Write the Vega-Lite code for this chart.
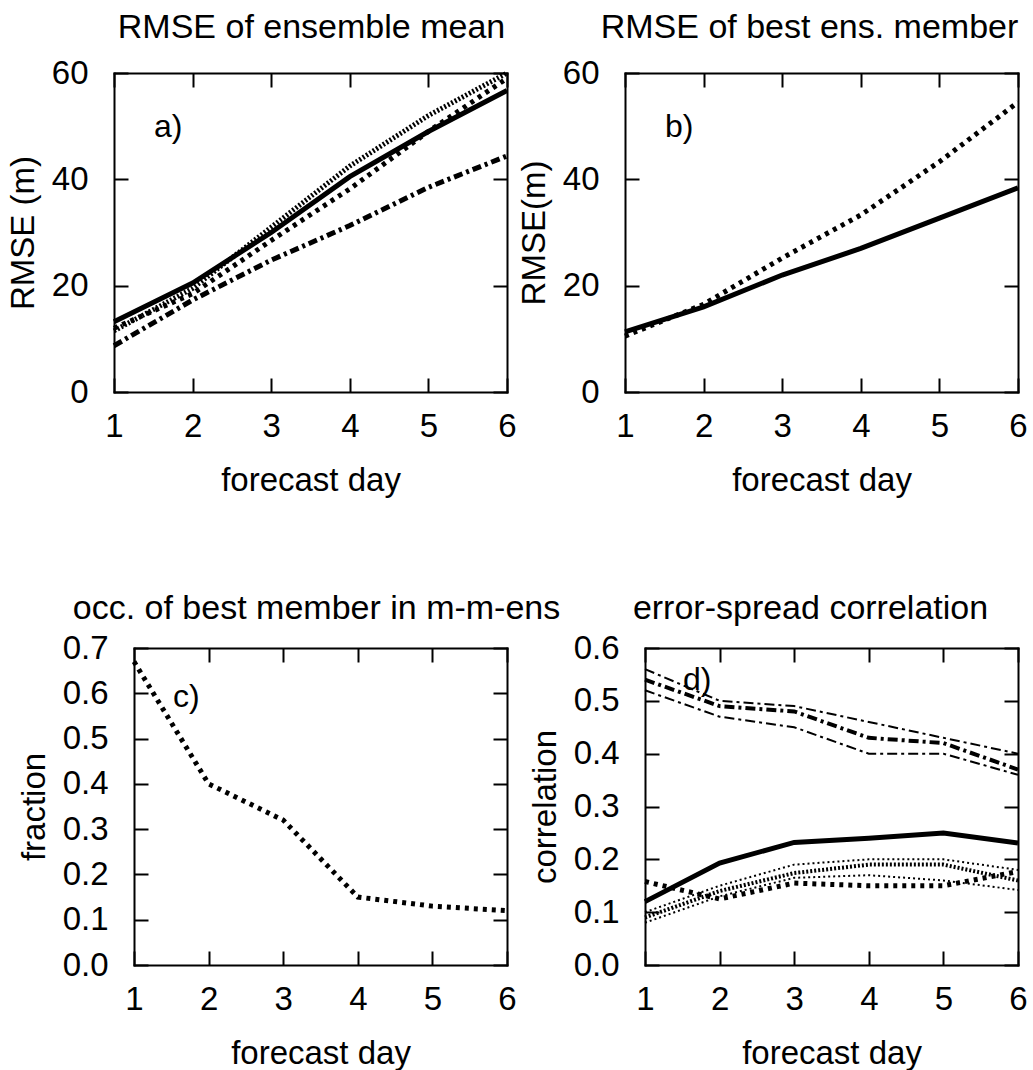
{
  "$schema": "https://vega.github.io/schema/vega-lite/v6.json",
  "autosize": {"type": "pad"},
  "padding": {"left": 7, "top": 11, "right": 0, "bottom": 0},
  "background": "white",
  "config": {
    "font": "Liberation Sans",
    "view": {"stroke": null},
    "axis": {
      "domainColor": "black", "domainWidth": 2, "domainCap": "square",
      "tickColor": "black", "tickWidth": 2, "tickSize": -14,
      "labelFontSize": 33, "labelColor": "black", "labelFlush": false, "labelOverlap": false,
      "titleFontSize": 33, "titleFontWeight": "normal", "titleColor": "black",
      "grid": false
    },
    "axisX": {"labelPadding": 32, "titlePadding": 21},
    "axisY": {"labelPadding": 40, "titlePadding": 11},
    "title": {"fontSize": 34, "fontWeight": "normal", "color": "black", "baseline": "alphabetic"},
    "line": {"strokeCap": "butt", "color": "black"}
  },
  "datasets": {
    "a": [
      {"day": 1, "v": 13.2, "s": "solid"}, {"day": 2, "v": 20.5, "s": "solid"}, {"day": 3, "v": 30, "s": "solid"}, {"day": 4, "v": 40.5, "s": "solid"}, {"day": 5, "v": 49, "s": "solid"}, {"day": 6, "v": 56.7, "s": "solid"},
      {"day": 1, "v": 11.5, "s": "fine"}, {"day": 2, "v": 19.5, "s": "fine"}, {"day": 3, "v": 31, "s": "fine"}, {"day": 4, "v": 42.5, "s": "fine"}, {"day": 5, "v": 52, "s": "fine"}, {"day": 6, "v": 60, "s": "fine"},
      {"day": 1, "v": 12, "s": "dots"}, {"day": 2, "v": 18.5, "s": "dots"}, {"day": 3, "v": 28.5, "s": "dots"}, {"day": 4, "v": 38.2, "s": "dots"}, {"day": 5, "v": 49, "s": "dots"}, {"day": 6, "v": 59, "s": "dots"},
      {"day": 1, "v": 8.7, "s": "dashdot"}, {"day": 2, "v": 17.3, "s": "dashdot"}, {"day": 3, "v": 24.8, "s": "dashdot"}, {"day": 4, "v": 31.3, "s": "dashdot"}, {"day": 5, "v": 38.5, "s": "dashdot"}, {"day": 6, "v": 44.4, "s": "dashdot"}
    ],
    "b": [
      {"day": 1, "v": 11.3, "s": "solid"}, {"day": 2, "v": 16, "s": "solid"}, {"day": 3, "v": 22, "s": "solid"}, {"day": 4, "v": 27, "s": "solid"}, {"day": 5, "v": 32.7, "s": "solid"}, {"day": 6, "v": 38.4, "s": "solid"},
      {"day": 1, "v": 10.5, "s": "dots"}, {"day": 2, "v": 16.5, "s": "dots"}, {"day": 3, "v": 25.2, "s": "dots"}, {"day": 4, "v": 33.3, "s": "dots"}, {"day": 5, "v": 43.3, "s": "dots"}, {"day": 6, "v": 54.5, "s": "dots"}
    ],
    "c": [
      {"day": 1, "v": 0.67, "s": "dots"}, {"day": 2, "v": 0.40, "s": "dots"}, {"day": 3, "v": 0.32, "s": "dots"}, {"day": 4, "v": 0.15, "s": "dots"}, {"day": 5, "v": 0.13, "s": "dots"}, {"day": 6, "v": 0.12, "s": "dots"}
    ],
    "d": [
      {"day": 1, "v": 0.56, "s": "dd_thin1"}, {"day": 2, "v": 0.50, "s": "dd_thin1"}, {"day": 3, "v": 0.49, "s": "dd_thin1"}, {"day": 4, "v": 0.46, "s": "dd_thin1"}, {"day": 5, "v": 0.43, "s": "dd_thin1"}, {"day": 6, "v": 0.40, "s": "dd_thin1"},
      {"day": 1, "v": 0.54, "s": "dd_thick"}, {"day": 2, "v": 0.49, "s": "dd_thick"}, {"day": 3, "v": 0.48, "s": "dd_thick"}, {"day": 4, "v": 0.43, "s": "dd_thick"}, {"day": 5, "v": 0.42, "s": "dd_thick"}, {"day": 6, "v": 0.37, "s": "dd_thick"},
      {"day": 1, "v": 0.52, "s": "dd_thin2"}, {"day": 2, "v": 0.47, "s": "dd_thin2"}, {"day": 3, "v": 0.45, "s": "dd_thin2"}, {"day": 4, "v": 0.40, "s": "dd_thin2"}, {"day": 5, "v": 0.40, "s": "dd_thin2"}, {"day": 6, "v": 0.36, "s": "dd_thin2"},
      {"day": 1, "v": 0.12, "s": "solid"}, {"day": 2, "v": 0.193, "s": "solid"}, {"day": 3, "v": 0.232, "s": "solid"}, {"day": 4, "v": 0.24, "s": "solid"}, {"day": 5, "v": 0.25, "s": "solid"}, {"day": 6, "v": 0.231, "s": "solid"},
      {"day": 1, "v": 0.10, "s": "fd_thin1"}, {"day": 2, "v": 0.15, "s": "fd_thin1"}, {"day": 3, "v": 0.19, "s": "fd_thin1"}, {"day": 4, "v": 0.20, "s": "fd_thin1"}, {"day": 5, "v": 0.20, "s": "fd_thin1"}, {"day": 6, "v": 0.18, "s": "fd_thin1"},
      {"day": 1, "v": 0.09, "s": "fd_thick"}, {"day": 2, "v": 0.14, "s": "fd_thick"}, {"day": 3, "v": 0.174, "s": "fd_thick"}, {"day": 4, "v": 0.19, "s": "fd_thick"}, {"day": 5, "v": 0.19, "s": "fd_thick"}, {"day": 6, "v": 0.16, "s": "fd_thick"},
      {"day": 1, "v": 0.08, "s": "fd_thin2"}, {"day": 2, "v": 0.13, "s": "fd_thin2"}, {"day": 3, "v": 0.165, "s": "fd_thin2"}, {"day": 4, "v": 0.17, "s": "fd_thin2"}, {"day": 5, "v": 0.16, "s": "fd_thin2"}, {"day": 6, "v": 0.142, "s": "fd_thin2"},
      {"day": 1, "v": 0.158, "s": "dots"}, {"day": 2, "v": 0.125, "s": "dots"}, {"day": 3, "v": 0.155, "s": "dots"}, {"day": 4, "v": 0.15, "s": "dots"}, {"day": 5, "v": 0.15, "s": "dots"}, {"day": 6, "v": 0.177, "s": "dots"}
    ]
  },
  "columns": 2,
  "bounds": "flush",
  "spacing": {"row": 256, "column": 118},
  "concat": [
    {
      "width": 393, "height": 319,
      "title": {"text": "RMSE of ensemble mean", "offset": 12, "dx": 1},
      "data": {"name": "a"},
      "resolve": {"axis": {"x": "independent", "y": "independent"}},
      "layer": [
        {
          "transform": [{"filter": "datum.s == 'solid'"}],
          "mark": {"type": "line", "strokeWidth": 5},
          "encoding": {
            "x": {"field": "day", "type": "quantitative", "scale": {"domain": [1, 6], "nice": false, "zero": false}, "axis": {"orient": "bottom", "values": [1, 2, 3, 4, 5, 6], "title": "forecast day"}},
            "y": {"field": "v", "type": "quantitative", "scale": {"domain": [0, 60], "nice": false}, "axis": {"orient": "left", "values": [0, 20, 40, 60], "title": "RMSE (m)"}}
          }
        },
        {
          "transform": [{"filter": "datum.s == 'fine'"}],
          "mark": {"type": "line", "strokeWidth": 5, "strokeDash": [2, 2]},
          "encoding": {"x": {"field": "day", "type": "quantitative", "axis": null}, "y": {"field": "v", "type": "quantitative", "axis": null}}
        },
        {
          "transform": [{"filter": "datum.s == 'dots'"}],
          "mark": {"type": "line", "strokeWidth": 5, "strokeDash": [4, 5]},
          "encoding": {"x": {"field": "day", "type": "quantitative", "axis": null}, "y": {"field": "v", "type": "quantitative", "axis": null}}
        },
        {
          "transform": [{"filter": "datum.s == 'dashdot'"}],
          "mark": {"type": "line", "strokeWidth": 5, "strokeDash": [9, 4, 3, 4]},
          "encoding": {"x": {"field": "day", "type": "quantitative", "axis": null}, "y": {"field": "v", "type": "quantitative", "axis": null}}
        },
        {
          "mark": {"type": "line", "opacity": 0},
          "encoding": {
            "x": {"field": "day", "type": "quantitative", "axis": {"orient": "top", "values": [1, 2, 3, 4, 5, 6], "labels": false, "title": null}},
            "y": {"field": "v", "type": "quantitative", "axis": {"orient": "right", "values": [0, 20, 40, 60], "labels": false, "title": null}},
            "detail": {"field": "s"}
          }
        },
        {
          "data": {"values": [{"day": 1.69, "v": 48, "lab": "a)"}]},
          "mark": {"type": "text", "fontSize": 32, "align": "center", "baseline": "alphabetic", "color": "black"},
          "encoding": {
            "x": {"field": "day", "type": "quantitative", "axis": null},
            "y": {"field": "v", "type": "quantitative", "axis": null},
            "text": {"field": "lab"}
          }
        }
      ]
    },
    {
      "width": 393, "height": 319,
      "title": {"text": "RMSE of best ens. member", "offset": 12, "dx": -12},
      "data": {"name": "b"},
      "resolve": {"axis": {"x": "independent", "y": "independent"}},
      "layer": [
        {
          "transform": [{"filter": "datum.s == 'solid'"}],
          "mark": {"type": "line", "strokeWidth": 5},
          "encoding": {
            "x": {"field": "day", "type": "quantitative", "scale": {"domain": [1, 6], "nice": false, "zero": false}, "axis": {"orient": "bottom", "values": [1, 2, 3, 4, 5, 6], "title": "forecast day"}},
            "y": {"field": "v", "type": "quantitative", "scale": {"domain": [0, 60], "nice": false}, "axis": {"orient": "left", "values": [0, 20, 40, 60], "title": "RMSE(m)"}}
          }
        },
        {
          "transform": [{"filter": "datum.s == 'dots'"}],
          "mark": {"type": "line", "strokeWidth": 5, "strokeDash": [4, 5]},
          "encoding": {"x": {"field": "day", "type": "quantitative", "axis": null}, "y": {"field": "v", "type": "quantitative", "axis": null}}
        },
        {
          "mark": {"type": "line", "opacity": 0},
          "encoding": {
            "x": {"field": "day", "type": "quantitative", "axis": {"orient": "top", "values": [1, 2, 3, 4, 5, 6], "labels": false, "title": null}},
            "y": {"field": "v", "type": "quantitative", "axis": {"orient": "right", "values": [0, 20, 40, 60], "labels": false, "title": null}},
            "detail": {"field": "s"}
          }
        },
        {
          "data": {"values": [{"day": 1.69, "v": 48, "lab": "b)"}]},
          "mark": {"type": "text", "fontSize": 32, "align": "center", "baseline": "alphabetic", "color": "black"},
          "encoding": {
            "x": {"field": "day", "type": "quantitative", "axis": null},
            "y": {"field": "v", "type": "quantitative", "axis": null},
            "text": {"field": "lab"}
          }
        }
      ]
    },
    {
      "width": 393, "height": 317,
      "title": {"text": "occ. of best member in m-m-ens", "offset": 6, "dx": 6},
      "data": {"name": "c"},
      "resolve": {"axis": {"x": "independent", "y": "independent"}},
      "layer": [
        {
          "mark": {"type": "line", "strokeWidth": 5, "strokeDash": [4, 5]},
          "encoding": {
            "x": {"field": "day", "type": "quantitative", "scale": {"domain": [1, 6], "nice": false, "zero": false, "range": [20, 393]}, "axis": {"orient": "bottom", "values": [1, 2, 3, 4, 5, 6], "title": "forecast day"}},
            "y": {"field": "v", "type": "quantitative", "scale": {"domain": [0, 0.7], "nice": false}, "axis": {"orient": "left", "offset": -20, "values": [0, 0.1, 0.2, 0.3, 0.4, 0.5, 0.6, 0.7], "format": ".1f", "title": "fraction"}}
          }
        },
        {
          "mark": {"type": "line", "opacity": 0},
          "encoding": {
            "x": {"field": "day", "type": "quantitative", "axis": {"orient": "top", "values": [1, 2, 3, 4, 5, 6], "labels": false, "title": null}},
            "y": {"field": "v", "type": "quantitative", "axis": {"orient": "right", "values": [0, 0.1, 0.2, 0.3, 0.4, 0.5, 0.6, 0.7], "labels": false, "title": null}}
          }
        },
        {
          "data": {"values": [{"day": 1.7, "v": 0.57, "lab": "c)"}]},
          "mark": {"type": "text", "fontSize": 32, "align": "center", "baseline": "alphabetic", "color": "black"},
          "encoding": {
            "x": {"field": "day", "type": "quantitative", "axis": null},
            "y": {"field": "v", "type": "quantitative", "axis": null},
            "text": {"field": "lab"}
          }
        }
      ]
    },
    {
      "width": 393, "height": 317,
      "title": {"text": "error-spread correlation", "offset": 6, "dx": -11},
      "data": {"name": "d"},
      "resolve": {"axis": {"x": "independent", "y": "independent"}},
      "layer": [
        {
          "transform": [{"filter": "datum.s == 'solid'"}],
          "mark": {"type": "line", "strokeWidth": 5},
          "encoding": {
            "x": {"field": "day", "type": "quantitative", "scale": {"domain": [1, 6], "nice": false, "zero": false, "range": [20, 393]}, "axis": {"orient": "bottom", "values": [1, 2, 3, 4, 5, 6], "title": "forecast day"}},
            "y": {"field": "v", "type": "quantitative", "scale": {"domain": [0, 0.6], "nice": false}, "axis": {"orient": "left", "offset": -20, "values": [0, 0.1, 0.2, 0.3, 0.4, 0.5, 0.6], "format": ".1f", "title": "correlation"}}
          }
        },
        {
          "transform": [{"filter": "datum.s == 'dd_thin1' || datum.s == 'dd_thin2'"}],
          "mark": {"type": "line", "strokeWidth": 2, "strokeDash": [10, 4, 3, 4]},
          "encoding": {"x": {"field": "day", "type": "quantitative", "axis": null}, "y": {"field": "v", "type": "quantitative", "axis": null}, "detail": {"field": "s"}}
        },
        {
          "transform": [{"filter": "datum.s == 'dd_thick'"}],
          "mark": {"type": "line", "strokeWidth": 4, "strokeDash": [10, 4, 3, 4]},
          "encoding": {"x": {"field": "day", "type": "quantitative", "axis": null}, "y": {"field": "v", "type": "quantitative", "axis": null}}
        },
        {
          "transform": [{"filter": "datum.s == 'fd_thin1' || datum.s == 'fd_thin2'"}],
          "mark": {"type": "line", "strokeWidth": 2, "strokeDash": [2, 3]},
          "encoding": {"x": {"field": "day", "type": "quantitative", "axis": null}, "y": {"field": "v", "type": "quantitative", "axis": null}, "detail": {"field": "s"}}
        },
        {
          "transform": [{"filter": "datum.s == 'fd_thick'"}],
          "mark": {"type": "line", "strokeWidth": 4, "strokeDash": [2, 2]},
          "encoding": {"x": {"field": "day", "type": "quantitative", "axis": null}, "y": {"field": "v", "type": "quantitative", "axis": null}}
        },
        {
          "transform": [{"filter": "datum.s == 'dots'"}],
          "mark": {"type": "line", "strokeWidth": 5, "strokeDash": [4, 5]},
          "encoding": {"x": {"field": "day", "type": "quantitative", "axis": null}, "y": {"field": "v", "type": "quantitative", "axis": null}}
        },
        {
          "mark": {"type": "line", "opacity": 0},
          "encoding": {
            "x": {"field": "day", "type": "quantitative", "axis": {"orient": "top", "values": [1, 2, 3, 4, 5, 6], "labels": false, "title": null}},
            "y": {"field": "v", "type": "quantitative", "axis": {"orient": "right", "values": [0, 0.1, 0.2, 0.3, 0.4, 0.5, 0.6], "labels": false, "title": null}},
            "detail": {"field": "s"}
          }
        },
        {
          "data": {"values": [{"day": 1.7, "v": 0.52, "lab": "d)"}]},
          "mark": {"type": "text", "fontSize": 32, "align": "center", "baseline": "alphabetic", "color": "black"},
          "encoding": {
            "x": {"field": "day", "type": "quantitative", "axis": null},
            "y": {"field": "v", "type": "quantitative", "axis": null},
            "text": {"field": "lab"}
          }
        }
      ]
    }
  ]
}
